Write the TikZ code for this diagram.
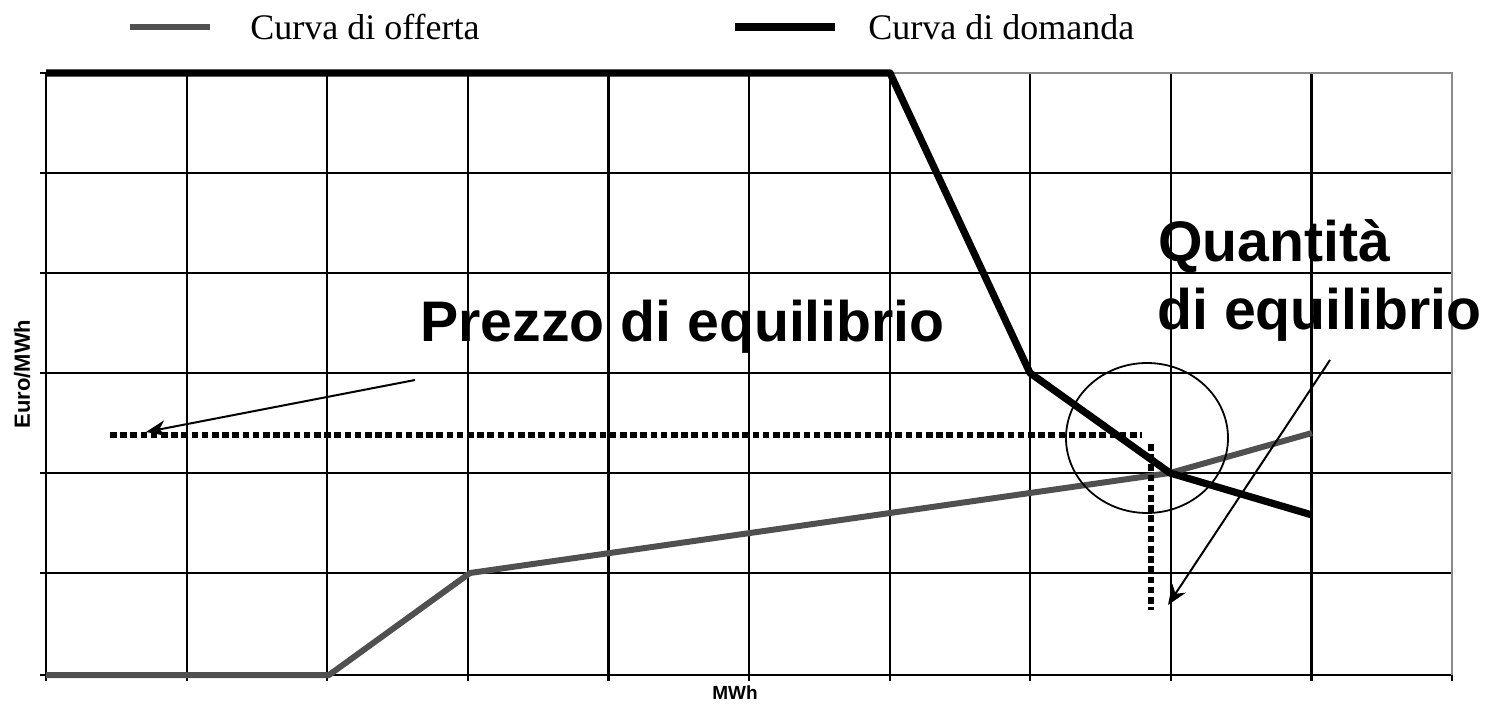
\documentclass[tikz,border=0pt]{standalone}
\usepackage{fontspec}
\setmainfont{Liberation Serif}
\setsansfont{Liberation Sans}
\usetikzlibrary{arrows.meta,shapes.geometric}
\definecolor{supplygray}{HTML}{505050}
\definecolor{framegray}{HTML}{8A8A8A}
\tikzset{
  gridline/.style={black, line width=1.1pt},
  supply/.style={supplygray, line width=3pt, line join=round},
  demand/.style={black, line width=3.6pt, line join=round},
  dotline/.style={black, line width=3pt, dash pattern=on 3.3pt off 1.8pt},
  pointer/.style={black, line width=1pt, -{Stealth[length=10pt,width=8pt]}},
  bigtext/.style={font=\sffamily\bfseries\fontsize{28.6}{31}\selectfont, inner sep=0pt},
  legendtext/.style={font=\fontsize{18}{20}\selectfont, inner sep=0pt, anchor=west},
  axistext/.style={font=\sffamily\bfseries\fontsize{9.5}{11}\selectfont, inner sep=0pt},
  yaxistext/.style={font=\sffamily\bfseries\fontsize{11}{12}\selectfont, inner sep=0pt, rotate=90}
}
\begin{document}
\begin{tikzpicture}[x=0.5pt, y=-0.5pt]
\useasboundingbox[fill=white] (0,0) rectangle (1490,706);
% grid
\foreach \i in {0,...,9} {
  \pgfmathsetmacro{\xx}{46+140.6*\i}
  \draw[gridline] (\xx,73) -- (\xx,675);
  \draw[gridline] (\xx,675) -- (\xx,681);
}
\draw[gridline] (1452,675) -- (1452,681);
\foreach \y in {173,273,373,473,573} {
  \draw[gridline] (46,\y) -- (1452,\y);
}
\foreach \y in {73,173,273,373,473,573,675} {
  \draw[gridline] (40,\y) -- (46,\y);
}
\draw[gridline] (46,675) -- (1452,675);
\draw[framegray, line width=1.3pt] (890,73) -- (1452,73) -- (1452,675);
% curve points
\coordinate (s0) at (46,675);
\coordinate (s1) at (329,675);
\coordinate (s2) at (470,573);
\coordinate (s3) at (1170,473);
\coordinate (s4) at (1312,433);
\coordinate (d0) at (46,73);
\coordinate (d1) at (890,73);
\coordinate (d2) at (1030,373);
\coordinate (d3) at (1170,473);
\coordinate (d4) at (1312,515);
% supply and demand
\draw[supply] (s0) -- (s1) -- (s2) -- (s3) -- (s4);
\draw[demand] (d0) -- (d1) -- (d2) -- (d3) -- (d4);
% dotted equilibrium lines
\coordinate (ph0) at (110,435);
\coordinate (ph1) at (1142,435);
\coordinate (qv0) at (1151,444);
\coordinate (qv1) at (1151,610);
\draw[dotline] (ph0) -- (ph1);
\draw[dotline] (qv0) -- (qv1);
% circle
\node[draw, black, line width=0.9pt, ellipse, minimum width=81pt, minimum height=75pt, inner sep=0pt] (eqcircle) at (1147,438) {};
% labels
\node[bigtext, anchor=base west] (prezzo) at (420,341) {Prezzo di equilibrio};
\node[bigtext, anchor=base west] (quant1) at (1158,262) {Quantità};
\node[bigtext, anchor=base west] (quant2) at (1157,329) {di equilibrio};
\coordinate (pa0) at (415,380);
\coordinate (pa1) at (146,432);
\coordinate (qa0) at (1330,360);
\coordinate (qa1) at (1168,605);
\draw[pointer] (pa0) -- (pa1);
\draw[pointer] (qa0) -- (qa1);
% legend
\coordinate (lg0) at (130,27);
\coordinate (lg1) at (210,27);
\coordinate (lb0) at (735,27);
\coordinate (lb1) at (835,27);
\draw[supplygray, line width=3pt] (lg0) -- (lg1);
\draw[black, line width=3.6pt] (lb0) -- (lb1);
\node[legendtext] (offerta) at (250,27) {Curva di offerta};
\node[legendtext] (domanda) at (868,27) {Curva di domanda};
% axis labels
\node[axistext] (xlab) at (735,693) {MWh};
\node[yaxistext] (ylab) at (22,374) {Euro/MWh};
\end{tikzpicture}
\end{document}
